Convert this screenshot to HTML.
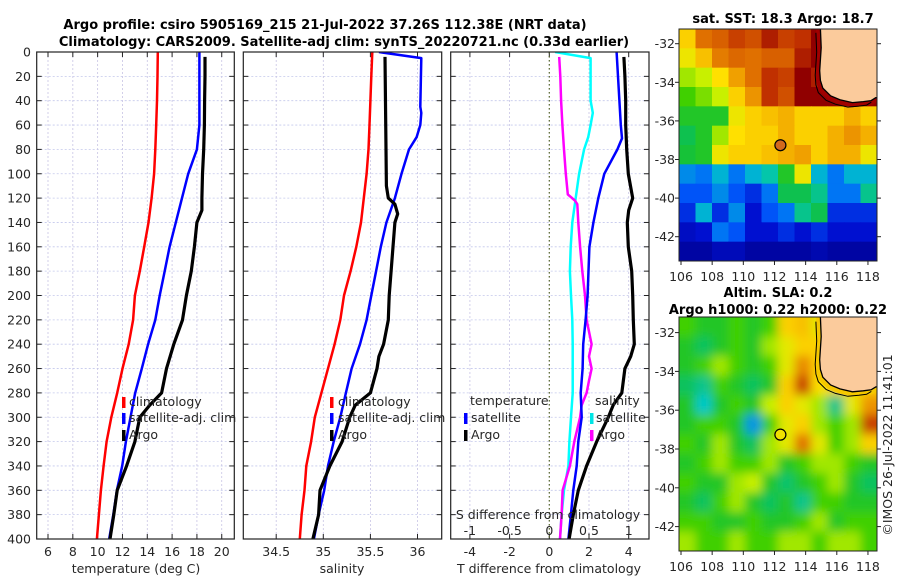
<!DOCTYPE html>
<html><head><meta charset="utf-8">
<style>
html,body{margin:0;padding:0;background:#fff;}
svg{display:block;font-family:"DejaVu Sans","Liberation Sans",sans-serif;}
.t{font-size:12.5px;fill:#262626;}
.b{font-size:13px;font-weight:bold;fill:#000;}
</style></head>
<body>
<svg id="fig" width="900" height="580" viewBox="0 0 900 580" xmlns="http://www.w3.org/2000/svg">
<defs>
<clipPath id="c1"><rect x="36.7" y="52" width="197.6" height="487"/></clipPath>
<clipPath id="c2"><rect x="243.3" y="52" width="198.4" height="487"/></clipPath>
<clipPath id="c3"><rect x="450.7" y="52" width="198.3" height="487"/></clipPath>
<clipPath id="cm1"><rect x="679" y="29" width="198" height="232"/></clipPath>
<clipPath id="cm2"><rect x="679" y="317" width="198" height="234"/></clipPath>
<filter id="blur" x="-5%" y="-5%" width="110%" height="110%"><feGaussianBlur stdDeviation="5"/></filter>
</defs>
<text class="b" x="325" y="29" text-anchor="middle">Argo profile: csiro 5905169_215 21-Jul-2022 37.26S 112.38E (NRT data)</text>
<text class="b" x="344" y="46" text-anchor="middle">Climatology: CARS2009. Satellite-adj clim: synTS_20220721.nc (0.33d earlier)</text>
<g id="root"></g>
</svg>
<script>
// ---------- profile data ----------
const depthStd = [0,20,40,60,80,100,120,140,160,180,200,220,240,260,280,300,320,340,360,380,400];
const climTemp = [14.85,14.82,14.78,14.72,14.65,14.55,14.35,14.1,13.75,13.4,13.0,12.86,12.5,12.0,11.58,11.1,10.72,10.48,10.26,10.1,9.94];
const satTemp  = [18.2,18.2,18.2,18.2,18.0,17.3,16.8,16.3,15.8,15.4,15.0,14.65,14.07,13.56,13.03,12.65,12.28,11.98,11.55,11.26,10.93];
const argoTempDepth = [4,20,40,60,80,100,120,130,140,160,180,200,220,240,260,280,290,300,320,340,360,380,400];
const argoTemp = [18.65,18.65,18.62,18.6,18.55,18.45,18.4,18.4,18.0,17.8,17.55,17.15,16.84,16.14,15.55,15.15,14.2,13.4,13.0,12.33,11.58,11.3,11.0];

const climSal = [35.52,35.51,35.5,35.49,35.48,35.46,35.43,35.40,35.35,35.29,35.22,35.18,35.12,35.05,34.98,34.91,34.87,34.82,34.80,34.77,34.75];
const satSalDepth = [0,5,45,50,60,70,80,100,120,140,160,180,200,220,240,260,280,300,320,340,360,380,400];
const satSal = [35.59,36.04,36.03,36.04,36.03,35.99,35.91,35.83,35.76,35.67,35.61,35.56,35.51,35.46,35.39,35.30,35.24,35.18,35.11,35.05,35.01,34.95,34.90];
const argoSalDepth = [4,110,120,125,133,140,200,220,240,250,260,280,290,300,320,340,360,380,400];
const argoSal = [35.655,35.67,35.69,35.76,35.79,35.76,35.70,35.69,35.64,35.59,35.57,35.50,35.34,35.28,35.20,35.07,34.965,34.95,34.89];

const satTDiffDepth = [0,40,60,71,80,100,120,140,160,200,220,240,260,280,300,320,340,360,380,400];
const satTDiff = [3.39,3.53,3.6,3.66,3.43,2.77,2.47,2.22,2.02,1.93,1.83,1.71,1.68,1.58,1.63,1.46,1.38,1.21,1.09,0.96];
const argoTDiffDepth = [4,20,40,60,80,100,120,130,140,160,180,200,220,240,250,260,280,290,300,320,340,360,380,400];
const argoTDiff = [3.76,3.81,3.85,3.85,3.9,3.98,4.2,4.0,3.93,3.98,4.15,4.2,4.23,4.28,4.1,3.81,3.65,3.22,2.97,2.39,1.88,1.46,1.21,1.0];
const satSDiffDepth = [0,5,40,50,60,70,80,100,120,140,160,180,200,220,240,260,280,300,320,340,360,380,400];
const satSDiff = [0.073,0.52,0.52,0.548,0.52,0.49,0.438,0.375,0.333,0.29,0.27,0.26,0.273,0.29,0.295,0.295,0.295,0.273,0.253,0.24,0.185,0.155,0.135];
const argoSDiffDepth = [4,20,40,60,80,100,117,122,125,140,160,180,200,220,240,250,260,270,280,290,300,320,340,360,380,400];
const argoSDiff = [0.125,0.138,0.148,0.165,0.185,0.208,0.233,0.323,0.353,0.365,0.388,0.415,0.45,0.47,0.533,0.5,0.533,0.5,0.47,0.408,0.388,0.315,0.26,0.168,0.155,0.135];

const depthTicks = [0,20,40,60,80,100,120,140,160,180,200,220,240,260,280,300,320,340,360,380,400];
const tempTicks = [6,8,10,12,14,16,18,20];
const salTicks = [34.5,35,35.5,36];
const tdiffTicks = [-4,-2,0,2,4];
const sdiffTicks = [-1,-0.5,0,0.5,1];
const sdiffTickLabels = ["-1","-0.5","0","0.5","1"];

// ---------- map data (colormap fraction; -1 = land) ----------
const sstRow0 = [0.7,0.84,0.86,0.9,0.88,0.95,0.9,0.92,1,-1,-1,-1];
const sstRow1 = [0.66,0.72,0.82,0.85,0.84,0.86,0.86,0.95,1,-1,-1,-1];
const sstRow2 = [0.6,0.62,0.68,0.76,0.84,0.92,0.9,1,0.95,-1,-1,-1];
const sstRow3 = [0.55,0.58,0.62,0.7,0.78,0.92,0.88,1,1,1,1,1];
const sstRow4 = [0.5,0.5,0.5,0.66,0.7,0.72,0.74,0.7,0.7,0.7,0.74,0.7];
const sstRow5 = [0.46,0.5,0.6,0.68,0.7,0.7,0.74,0.7,0.7,0.74,0.78,0.74];
const sstRow6 = [0.48,0.5,0.66,0.7,0.7,0.72,0.74,0.76,0.7,0.74,0.74,0.66];
const sstRow7 = [0.32,0.3,0.36,0.3,0.36,0.4,0.5,0.66,0.36,0.3,0.36,0.36];
const sstRow8 = [0.26,0.26,0.32,0.26,0.2,0.3,0.46,0.46,0.42,0.3,0.3,0.42];
const sstRow9 = [0.2,0.36,0.2,0.32,0.15,0.26,0.3,0.42,0.46,0.2,0.2,0.2];
const sstRow10 = [0.12,0.15,0.3,0.26,0.15,0.15,0.2,0.15,0.2,0.15,0.15,0.15];
const sstRow11 = [0.05,0.05,0.1,0.1,0.05,0.05,0.05,0.05,0.08,0.05,0.05,0.05];
const sstGrid = [sstRow0,sstRow1,sstRow2,sstRow3,sstRow4,sstRow5,sstRow6,sstRow7,sstRow8,sstRow9,sstRow10,sstRow11];

const slaRow0 = [0.55,0.5,0.5,0.55,0.5,0.55,0.7,0.72,0.65,0.7,0.7,0.7];
const slaRow1 = [0.5,0.45,0.5,0.55,0.5,0.6,0.65,0.7,0.7,0.7,0.7,0.7];
const slaRow2 = [0.5,0.55,0.6,0.55,0.5,0.55,0.65,0.8,0.7,0.7,0.7,0.7];
const slaRow3 = [0.45,0.42,0.55,0.5,0.45,0.5,0.7,0.9,0.68,0.7,0.7,0.7];
const slaRow4 = [0.5,0.38,0.5,0.55,0.5,0.62,0.7,0.65,0.6,0.42,0.65,0.78];
const slaRow5 = [0.5,0.55,0.55,0.5,0.33,0.55,0.65,0.7,0.6,0.55,0.6,0.9];
const slaRow6 = [0.55,0.5,0.6,0.5,0.45,0.6,0.65,0.84,0.65,0.55,0.6,0.7];
const slaRow7 = [0.5,0.55,0.6,0.55,0.55,0.6,0.5,0.55,0.6,0.6,0.55,0.5];
const slaRow8 = [0.55,0.5,0.5,0.6,0.62,0.5,0.44,0.5,0.55,0.6,0.5,0.45];
const slaRow9 = [0.5,0.45,0.55,0.6,0.5,0.45,0.5,0.42,0.55,0.55,0.5,0.5];
const slaRow10 = [0.55,0.55,0.5,0.5,0.55,0.5,0.5,0.55,0.6,0.5,0.55,0.55];
const slaRow11 = [0.6,0.55,0.55,0.6,0.55,0.55,0.6,0.6,0.55,0.6,0.6,0.55];
const slaGrid = [slaRow0,slaRow1,slaRow2,slaRow3,slaRow4,slaRow5,slaRow6,slaRow7,slaRow8,slaRow9,slaRow10,slaRow11];

const lonTicks = [106,108,110,112,114,116,118];
const latTicks = [-32,-34,-36,-38,-40,-42];
const argoLon = 112.38, argoLat = -37.26;
const coastLon = [114.95,115.0,114.9,114.95,115.1,115.6,116.2,117.0,117.7,118.2,118.5];
const coastLat = [-31.2,-32.2,-33.4,-33.9,-34.3,-34.7,-34.9,-35.05,-35.0,-34.95,-34.8];

// ---------- helpers ----------
const NS = "http://www.w3.org/2000/svg";
const root = document.getElementById('root');
function mk(tag, attrs, parent){ const e=document.createElementNS(NS,tag); for(const k in attrs) e.setAttribute(k,attrs[k]); (parent||root).appendChild(e); return e; }
const yD = d => 52 + d*1.2175;
const xT = t => 48 + (t-6)*12.41;
const xS = s => 323.3 + (s-35)*94.2;
const xTd = t => 549.3 + t*19.85;
const xSd = s => xTd(s*4);

function panel(x0,x1,name,clip,xTicksArr,xf,labels,ylabels){
  const g = mk('g',{});
  
  
  depthTicks.forEach(d=>{
    const l = mk('line',{x1:x0,x2:x1,y1:yD(d),y2:yD(d),stroke:'#c4c8ec','stroke-width':0.8,'stroke-dasharray':'2,2'},g);
    
    
    mk('line',{x1:x0,x2:x0+5,y1:yD(d),y2:yD(d),stroke:'#222','stroke-width':1},g);
    mk('line',{x1:x1-5,x2:x1,y1:yD(d),y2:yD(d),stroke:'#222','stroke-width':1},g);
    if(ylabels){
      const t = mk('text',{x:31,y:yD(d)+4.5,'text-anchor':'end',class:'t'},g);
      t.textContent = d;
      
      
    }
  });
  xTicksArr.forEach((v,i)=>{
    const l = mk('line',{x1:xf(v),x2:xf(v),y1:52,y2:539,stroke:'#c8c4e4','stroke-width':0.8,'stroke-dasharray':'2,2'},g);
    
    
    mk('line',{x1:xf(v),x2:xf(v),y1:539,y2:534,stroke:'#222','stroke-width':1},g);
    mk('line',{x1:xf(v),x2:xf(v),y1:52,y2:57,stroke:'#222','stroke-width':1},g);
    if(labels){
      const t = mk('text',{x:xf(v),y:556,'text-anchor':'middle',class:'t'},g);
      t.textContent = labels[i];
      
      
    }
  });
  return g;
}
function frame(x0,x1,name){
  const r = mk('rect',{x:x0,y:52,width:x1-x0,height:487,fill:'none',stroke:'#222','stroke-width':1.2});
  
  
}
function line(depths, vals, xf, color, w, clip, name){
  const pts = vals.map((v,i)=> xf(v).toFixed(1)+','+yD(depths[i]).toFixed(1)).join(' ');
  const p = mk('polyline',{points:pts,fill:'none',stroke:color,'stroke-width':w,'stroke-linejoin':'round','clip-path':'url(#'+clip+')'});
  
  
}
function txt(x,y,s,anchor,cls,name,extra){
  const t = mk('text',Object.assign({x:x,y:y,'text-anchor':anchor||'start',class:cls||'t'},extra||{}));
  t.textContent = s;
  
  
  return t;
}
function legMark(x,y,color,name){
  const r = mk('rect',{x:x,y:y-10,width:3.5,height:11,fill:color});
  
  
}

// ---------- panel 1: temperature ----------
panel(36.7,234.3,'temperature-panel','c1',tempTicks,xT,tempTicks.map(String),true);
line(depthStd, climTemp, xT, '#ff0000', 2.5, 'c1', 'temp-climatology-line');
line(depthStd, satTemp, xT, '#0000ff', 2.5, 'c1', 'temp-satellite-line');
line(argoTempDepth, argoTemp, xT, '#000', 3.2, 'c1', 'temp-argo-line');
frame(36.7,234.3,'temperature-axes-frame');
txt(136,573,'temperature (deg C)','middle','t','temperature-x-axis-title');
legMark(122,407,'#ff0000','legend-mark-climatology');
txt(129,406,'climatology','start','t','legend-climatology');
legMark(122,423,'#0000ff','legend-mark-satellite');
txt(129,422,'satellite-adj. clim','start','t','legend-satellite-adj');
legMark(122,440,'#000','legend-mark-argo');
txt(129,439,'Argo','start','t','legend-argo');

// ---------- panel 2: salinity ----------
panel(243.3,441.7,'salinity-panel','c2',salTicks,xS,salTicks.map(String),false);
line(depthStd, climSal, xS, '#ff0000', 2.5, 'c2', 'sal-climatology-line');
line(satSalDepth, satSal, xS, '#0000ff', 2.5, 'c2', 'sal-satellite-line');
line(argoSalDepth, argoSal, xS, '#000', 3.2, 'c2', 'sal-argo-line');
frame(243.3,441.7,'salinity-axes-frame');
txt(342,573,'salinity','middle','t','salinity-x-axis-title');
legMark(330,407,'#ff0000','legend2-mark-climatology');
txt(338,406,'climatology','start','t','legend2-climatology');
legMark(330,423,'#0000ff','legend2-mark-satellite');
txt(338,422,'satellite-adj. clim','start','t','legend2-satellite-adj');
legMark(330,440,'#000','legend2-mark-argo');
txt(338,439,'Argo','start','t','legend2-argo');

// ---------- panel 3: differences ----------
panel(450.7,649,'difference-panel','c3',tdiffTicks,xTd,tdiffTicks.map(String),false);
const zl = mk('line',{x1:xTd(0),x2:xTd(0),y1:52,y2:539,stroke:'#5a6a2a','stroke-width':1.2,'stroke-dasharray':'1.5,2.5'});


line(satSDiffDepth, satSDiff, xSd, '#00ffff', 2.5, 'c3', 'sdiff-satellite-line');
line(argoSDiffDepth, argoSDiff, xSd, '#ff00ff', 2.5, 'c3', 'sdiff-argo-line');
line(satTDiffDepth, satTDiff, xTd, '#0000ff', 2.5, 'c3', 'tdiff-satellite-line');
line(argoTDiffDepth, argoTDiff, xTd, '#000', 3.2, 'c3', 'tdiff-argo-line');
frame(450.7,649,'difference-axes-frame');
txt(470,405,'temperature','start','t','legend3-temperature-header');
legMark(464,423,'#0000ff','legend3-mark-t-satellite');
txt(471,422,'satellite','start','t','legend3-t-satellite');
legMark(464,440,'#000','legend3-mark-t-argo');
txt(471,439,'Argo','start','t','legend3-t-argo');
txt(595,405,'salinity','start','t','legend3-salinity-header');
legMark(590,423,'#00e5e5','legend3-mark-s-satellite');
txt(596,422,'satellite','start','t','legend3-s-satellite');
legMark(590,440,'#ff00ff','legend3-mark-s-argo');
txt(596,439,'Argo','start','t','legend3-s-argo');
txt(548,519,'S difference from climatology','middle','t','s-difference-axis-title');
sdiffTicks.forEach((v,i)=>{ txt(xSd(v),535,sdiffTickLabels[i],'middle','t','s-diff-tick-label'); });
txt(549,573,'T difference from climatology','middle','t','t-difference-axis-title');

// ---------- maps ----------
const cmStops = [[0,[0,0,140]],[0.15,[0,16,208]],[0.28,[0,96,255]],[0.38,[0,200,200]],[0.47,[16,192,64]],[0.55,[64,208,0]],[0.62,[200,240,0]],[0.68,[255,224,0]],[0.76,[240,160,0]],[0.84,[224,112,0]],[0.92,[192,48,0]],[1,[144,0,0]]];
function cmap(v){
  v = Math.max(0,Math.min(1,v));
  for(let i=1;i<cmStops.length;i++){
    if(v<=cmStops[i][0]){
      const a=cmStops[i-1], b=cmStops[i], f=(v-a[0])/(b[0]-a[0]);
      const c = a[1].map((x,k)=>Math.round(x+(b[1][k]-x)*f));
      return 'rgb('+c.join(',')+')';
    }
  }
  return 'rgb(144,0,0)';
}
function drawMap(o){
  const lx = lon => 681 + (lon-106)*15.58;
  const ly = lat => o.y32 + (-32-lat)*o.dy;
  const g = mk('g',{'clip-path':'url(#'+o.clip+')'});
  
  
  const cells = mk('g', o.blur?{filter:'url(#blur)'}:{}, g);
  const nr = o.grid.length, nc = o.grid[0].length;
  const cw = (o.x1-o.x0)/nc, ch=(o.y1-o.y0)/nr;
  const pad = o.blur?12:0;
  o.grid.forEach((row,r)=>row.forEach((v,c)=>{
    const x = o.x0 + c*cw - (c===0?pad:0), y = o.y0 + r*ch - (r===0?pad:0);
    const w = cw + (c===0||c===nc-1?pad:0) + 0.6, h = ch + (r===0||r===nr-1?pad:0) + 0.6;
    const rc = mk('rect',{x:x,y:y,width:w,height:h,fill: v<0 ? o.landCol : cmap(v)},cells);
    
    
  }));
  const coastPts = coastLon.map((lo,i)=>lx(lo).toFixed(1)+','+ly(coastLat[i]).toFixed(1));
  const landPts = coastPts.concat([lx(119)+','+ly(coastLat[coastLat.length-1]), lx(119)+','+(o.y0-5), lx(coastLon[0])+','+(o.y0-5)]).join(' ');
  const band = mk('polygon',{points:landPts,fill:'none',stroke:o.shelfCol,'stroke-width':o.shelfW,'stroke-linejoin':'round'},g);
  
  
  const outer = coastLon.map((lo,i)=>(lx(lo)-o.shelfW/2).toFixed(1)+','+(ly(coastLat[i])+o.shelfW/2).toFixed(1)).join(' ');
  const oc = mk('polyline',{points:outer,fill:'none',stroke:'#000','stroke-width':1},g);
  
  
  const land = mk('polygon',{points:landPts,fill:'#fbcb9c',stroke:'#000','stroke-width':1.3},g);
  
  
  const m = mk('circle',{cx:lx(argoLon),cy:ly(argoLat),r:5.5,fill:o.markCol,stroke:'#000','stroke-width':1.2},g);
  
  
  const fr = mk('rect',{x:o.x0,y:o.y0,width:o.x1-o.x0,height:o.y1-o.y0,fill:'none',stroke:'#222','stroke-width':1});
  
  
  latTicks.forEach(la=>{
    mk('line',{x1:o.x0,x2:o.x0-4,y1:ly(la),y2:ly(la),stroke:'#222'});
    mk('line',{x1:o.x1,x2:o.x1+4,y1:ly(la),y2:ly(la),stroke:'#222'});
    txt(o.x0-4,ly(la)+4.5,String(la),'end','t','map-lat-label');
  });
  lonTicks.forEach(lo=>{
    mk('line',{x1:lx(lo),x2:lx(lo),y1:o.y1,y2:o.y1+4,stroke:'#222'});
    txt(lx(lo),o.y1+20,String(lo),'middle','t','map-lon-label');
  });
}
drawMap({name:'sst-map',clip:'cm1',grid:sstGrid,x0:679,x1:877,y0:29,y1:261,y32:43.7,dy:19.3,blur:false,landCol:'#fbcb9c',shelfCol:'#a00000',shelfW:9,markCol:'#d2691e'});
drawMap({name:'sla-map',clip:'cm2',grid:slaGrid,x0:679,x1:877,y0:317,y1:551,y32:332.6,dy:19.4,blur:true,landCol:'#fbcb9c',shelfCol:'#f5c800',shelfW:9,markCol:'#f0e000'});
txt(783,23,'sat. SST: 18.3 Argo: 18.7','middle','b','sst-map-title');
txt(778,297,'Altim. SLA: 0.2','middle','b','sla-map-title-line-1');
txt(778,314,'Argo h1000: 0.22 h2000: 0.22','middle','b','sla-map-title-line-2');
txt(0,0,'©IMOS 26-Jul-2022 11:41:01','middle','t','imos-timestamp',{transform:'translate(892,445) rotate(-90)'});
</script>
</body></html>
